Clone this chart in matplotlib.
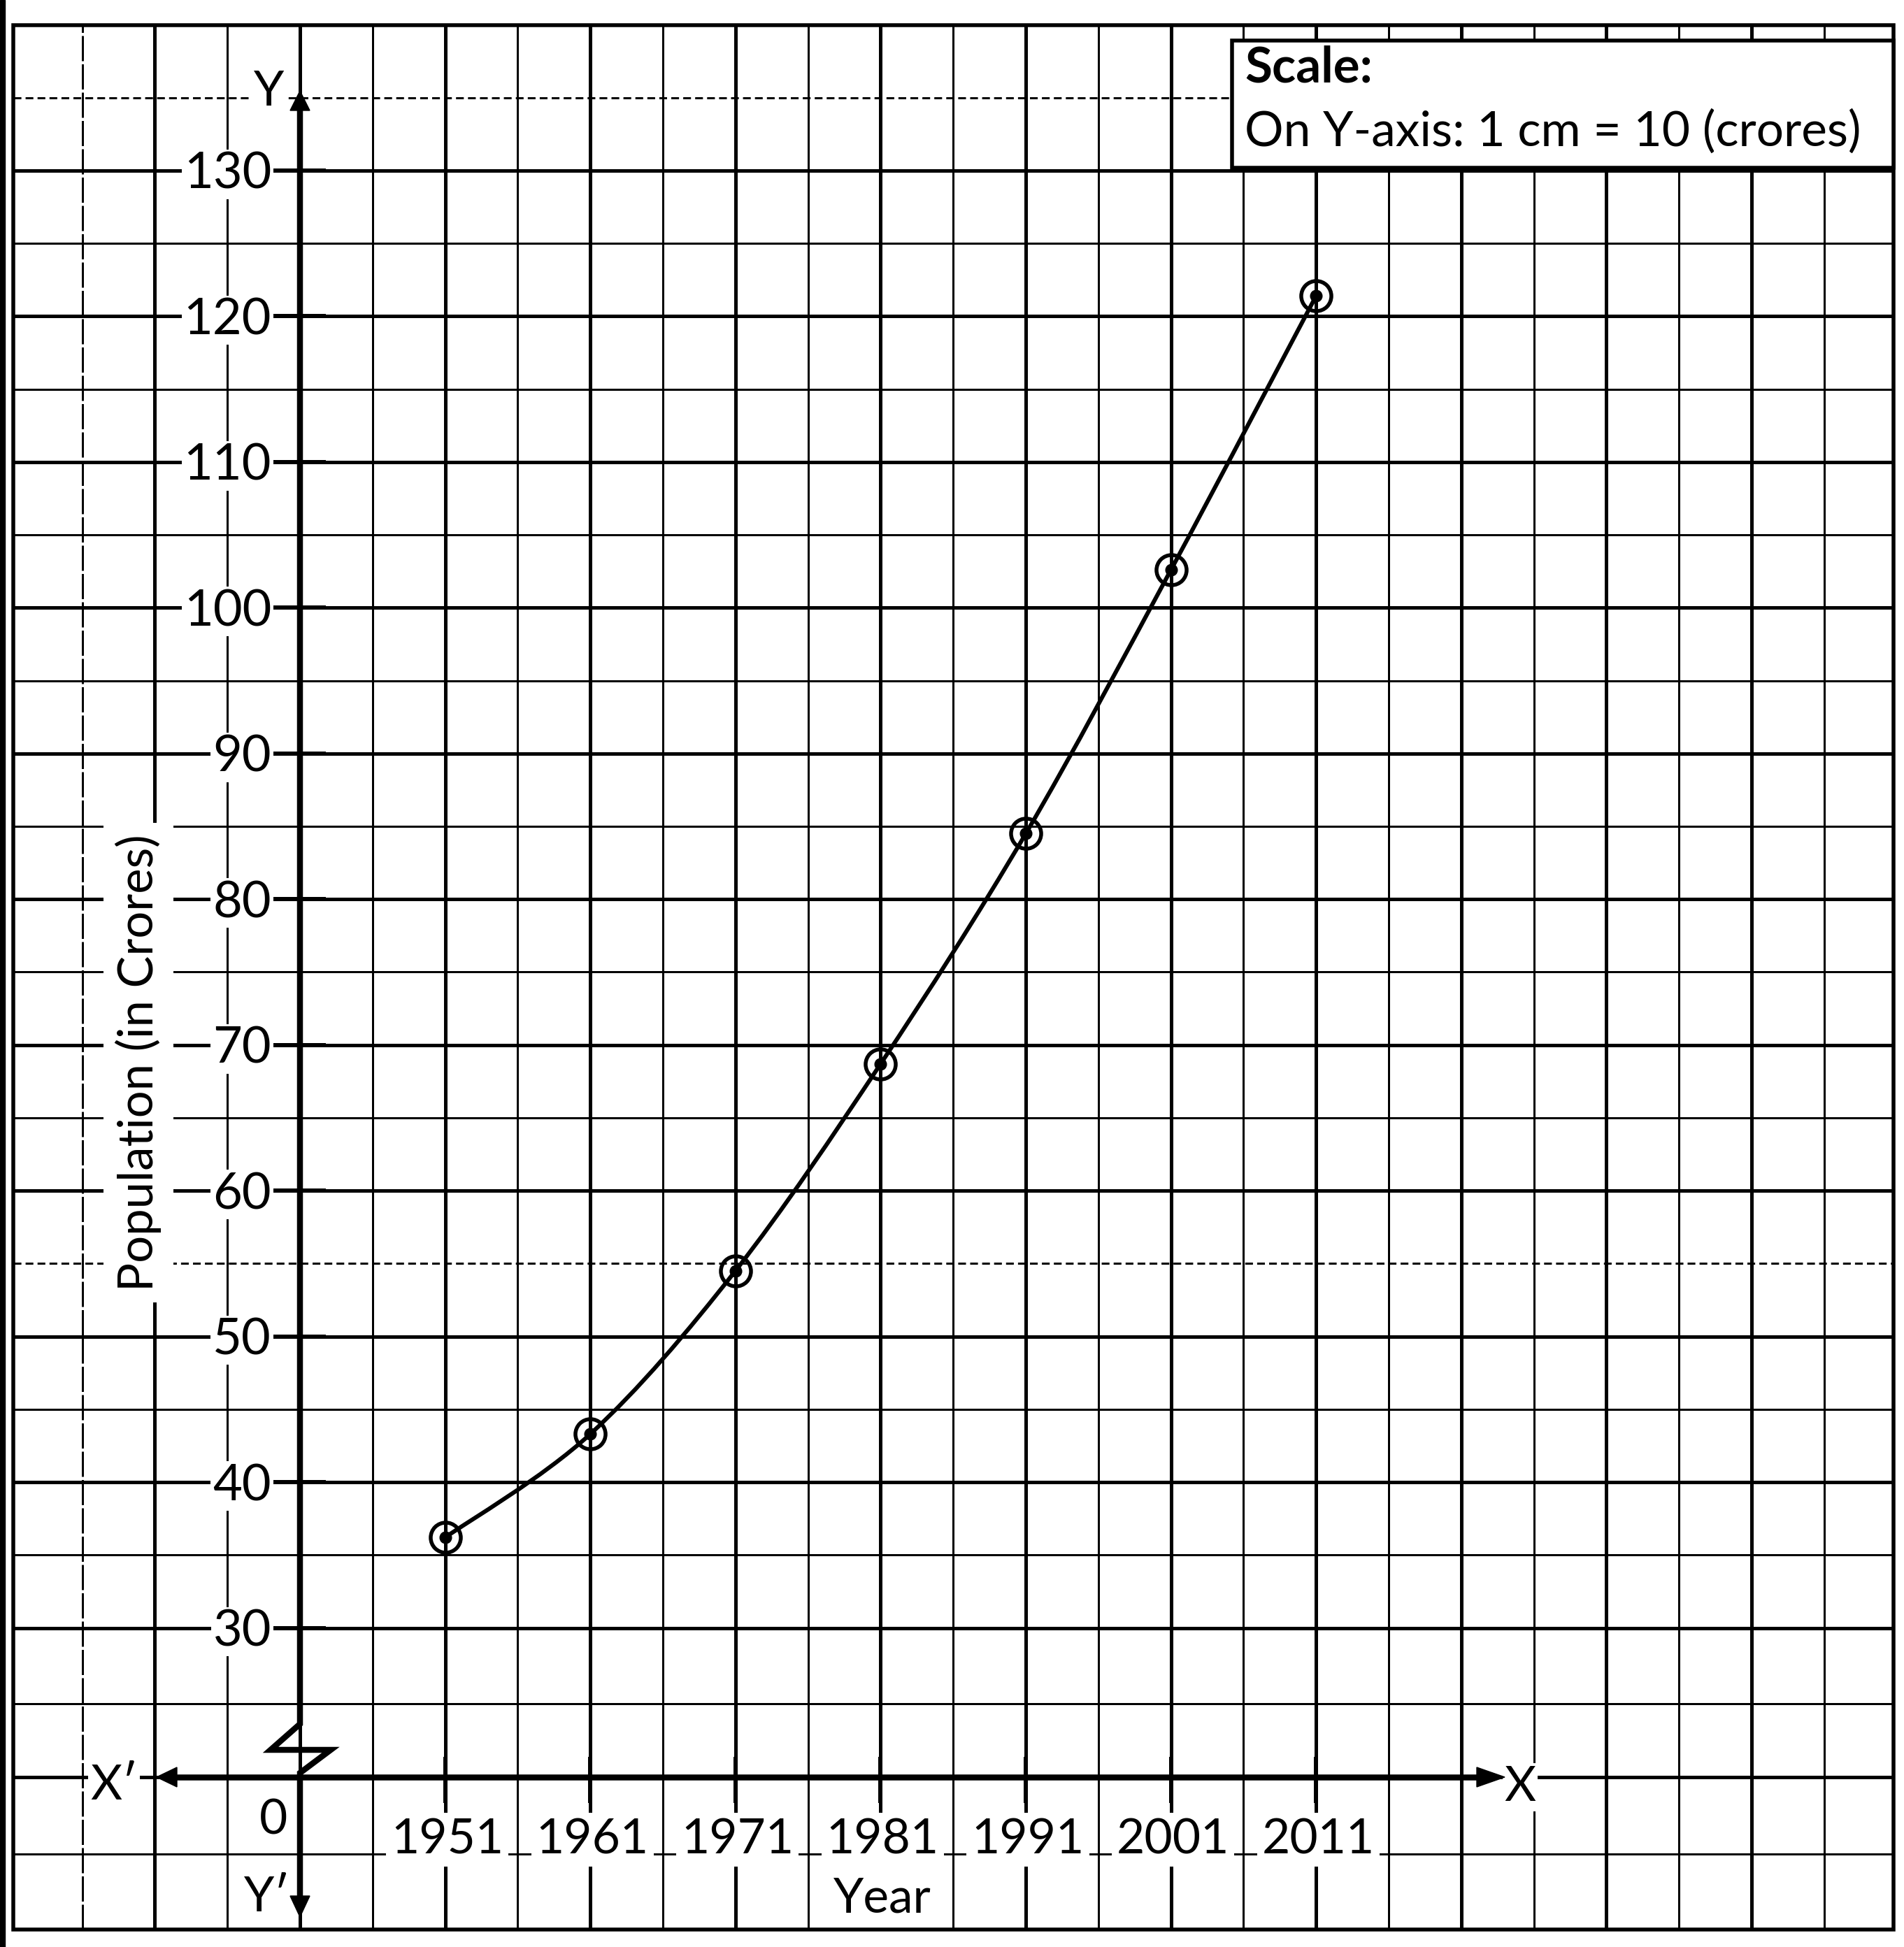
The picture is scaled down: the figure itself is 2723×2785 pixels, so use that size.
import numpy as np
import matplotlib
matplotlib.use("Agg")
import matplotlib.pyplot as plt
from matplotlib.path import Path
from matplotlib.patches import PathPatch, Rectangle, Polygon

# ---------------- data ----------------
years = [1951, 1961, 1971, 1981, 1991, 2001, 2011]
population = [36.2, 43.3, 54.5, 68.7, 84.5, 102.6, 121.4]   # crores
year_labels = ["1951", "1961", "1971", "1981", "1991", "2001", "2011"]
y_tick_values = [30, 40, 50, 60, 70, 80, 90, 100, 110, 120, 130]
y_tick_labels = ["30", "40", "50", "60", "70", "80", "90", "100", "110", "120", "130"]
x_label = "Year"
y_label = "Population (in Crores)"
scale_title = "Scale:"
scale_text = "On Y-axis: 1 cm = 10 (crores)"

FAM = ["Lato", "DejaVu Sans"]
plt.rcParams["font.family"] = FAM

W, H = 2723, 2785
fig = plt.figure(figsize=(W / 100, H / 100), dpi=100)
ax = fig.add_axes([0, 0, 1, 1])

# graph-paper calibration (pixels per data unit)
PX_PER_YEAR = 20.76
PX_PER_UNIT = 20.845
X0_PX, X0_VAL = 429, 1941      # origin column (Y-axis)
Y0_PX, Y0_VAL = 244, 130

ax.set_xlim(X0_VAL - X0_PX / PX_PER_YEAR, X0_VAL + (W - X0_PX) / PX_PER_YEAR)
ax.set_ylim(Y0_VAL - (H - Y0_PX) / PX_PER_UNIT, Y0_VAL + Y0_PX / PX_PER_UNIT)
ax.axis("off")


def X(p):
    return X0_VAL + (p - X0_PX) / PX_PER_YEAR


def Y(p):
    return Y0_VAL - (p - Y0_PX) / PX_PER_UNIT


def dx(n):
    return n / PX_PER_YEAR


def dy(n):
    return n / PX_PER_UNIT


PT = 0.72  # points per pixel
AXIS_Y = Y(2542)               # level of the X-axis (below the axis break)

# ---------------- frame ----------------
FL, FR, FT, FB = X(19), X(2708), Y(36), Y(2760)
ax.add_patch(Rectangle((FL, FB), FR - FL, FT - FB, fill=False, ec="black",
                       lw=5.5 * PT, zorder=3.6))
fig.patches.append(Rectangle((0, 0), 7 / W, 1, transform=fig.transFigure,
                             color="black", zorder=10))

# ---------------- grid ----------------
MAJ, MIN = 5 * PT, 3 * PT
for yr in range(1926, 2050, 5):
    major = (yr - 1941) % 10 == 0
    ls = (0, (12, 1.5)) if yr == 1926 else "-"
    ax.plot([yr, yr], [FB, FT], color="black", lw=MAJ if major else MIN,
            ls=ls, zorder=1, solid_capstyle="butt")
hlines = [(v, v % 10 == 0) for v in range(30, 140, 5)]
hlines += [(AXIS_Y + dy(105), False), (AXIS_Y, True), (AXIS_Y - dy(110), False)]
for v, major in hlines:
    ls = (0, (3.7, 2)) if v in (55, 135) else "-"
    ax.plot([FL, FR], [v, v], color="black", lw=MAJ if major else MIN,
            ls=ls, zorder=1, solid_capstyle="butt")

# ---------------- axes ----------------
AX_LW = 8.5 * PT
# X axis
ax.plot([X(250), X(2114)], [AXIS_Y, AXIS_Y], color="black", lw=AX_LW, zorder=4,
        solid_capstyle="butt")
ax.add_patch(Polygon([[X(2152), AXIS_Y], [X(2112), AXIS_Y + dy(14)],
                      [X(2112), AXIS_Y - dy(14)]], closed=True, color="black", zorder=4))
ax.add_patch(Polygon([[X(224), AXIS_Y], [X(253), AXIS_Y + dy(14)],
                      [X(253), AXIS_Y - dy(14)]], closed=True, color="black", zorder=4))
# Y axis with break
break_top = AXIS_Y + dy(76)
ax.plot([X0_VAL, X0_VAL, X0_VAL - dx(42), X0_VAL + dx(44), X0_VAL, X0_VAL],
        [Y(155), break_top, break_top - dy(37), break_top - dy(37),
         AXIS_Y + dy(6), Y(2714)],
        color="black", lw=AX_LW, zorder=4, solid_joinstyle="miter")
ax.add_patch(Polygon([[X0_VAL, Y(130)], [X0_VAL - dx(14), Y(158)],
                      [X0_VAL + dx(14), Y(158)]], closed=True, color="black", zorder=4))
ax.add_patch(Polygon([[X0_VAL, Y(2742)], [X0_VAL - dx(14), Y(2712)],
                      [X0_VAL + dx(14), Y(2712)]], closed=True, color="black", zorder=4))

# ticks
for v in y_tick_values:
    ax.plot([X(391), X(466)], [v, v], color="black", lw=6 * PT, zorder=4,
            solid_capstyle="butt")
for yr in years:
    ax.plot([yr, yr], [AXIS_Y + dy(29), AXIS_Y - dy(37)], color="black",
            lw=6 * PT, zorder=4, solid_capstyle="butt")

# ---------------- labels ----------------
def box(pad):
    return dict(facecolor="white", edgecolor="none", pad=pad)


for v, lab in zip(y_tick_values, y_tick_labels):
    ax.text(X(388), v - dy(26), lab, ha="right", va="baseline", fontsize=52,
            bbox=box(2), zorder=3)
for yr, lab in zip(years, year_labels):
    ax.text(yr + dx(3), Y(2651), lab, ha="center", va="baseline", fontsize=50,
            bbox=box(5), zorder=3)

ax.text(X(198), Y(1520), y_label, rotation=90, ha="center", va="center",
        fontsize=49.5, bbox=box(12), zorder=3)
ax.text(X(1262), Y(2736), x_label, ha="center", va="baseline", fontsize=50,
        bbox=box(11), zorder=3)
ax.text(X(391), Y(2624), "0", ha="center", va="baseline", fontsize=50,
        bbox=box(6), zorder=3)
ax.text(X(163), Y(2574), "X\u2032", ha="center", va="baseline", fontsize=50,
        bbox=box(2), zorder=3)
ax.text(X(2174), Y(2576), "X", ha="center", va="baseline", fontsize=50,
        bbox=box(2), zorder=3)
ax.text(X(385), Y(151), "Y", ha="center", va="baseline", fontsize=50,
        bbox=box(2), zorder=3)
ax.text(X(382), Y(2734), "Y\u2032", ha="center", va="baseline", fontsize=50,
        bbox=box(2), zorder=3)

# scale box
ax.add_patch(Rectangle((X(1762), Y(240)), X(2708) - X(1762), Y(58) - Y(240),
                       facecolor="white", edgecolor="black", lw=5.5 * PT, zorder=3.7))
ax.text(X(1780), Y(117), scale_title, ha="left", va="baseline", fontsize=51,
        fontweight="bold", zorder=3.8)
ax.text(X(1780), Y(209), scale_text, ha="left", va="baseline", fontsize=50,
        zorder=3.8)

# ---------------- smooth curve through the points ----------------
pts = np.column_stack([np.asarray(years, float), np.asarray(population, float)])
verts = [tuple(pts[0])]
codes = [Path.MOVETO]
n = len(pts)
for i in range(n - 1):
    p0 = pts[i - 1] if i > 0 else pts[i]
    p1 = pts[i]
    p2 = pts[i + 1]
    p3 = pts[i + 2] if i + 2 < n else pts[i + 1]
    c1 = p1 + (p2 - p0) / 6.0
    c2 = p2 - (p3 - p1) / 6.0
    verts += [tuple(c1), tuple(c2), tuple(p2)]
    codes += [Path.CURVE4] * 3
ax.add_patch(PathPatch(Path(verts, codes), fill=False, ec="black", lw=6 * PT,
                       zorder=5))

ax.plot(years, population, ls="none", marker="o", ms=31, mfc="none",
        mec="black", mew=5.5 * PT, zorder=6)
ax.plot(years, population, ls="none", marker="o", ms=12, color="black", zorder=7)

fig.savefig("out.png", dpi=100, facecolor="white")
